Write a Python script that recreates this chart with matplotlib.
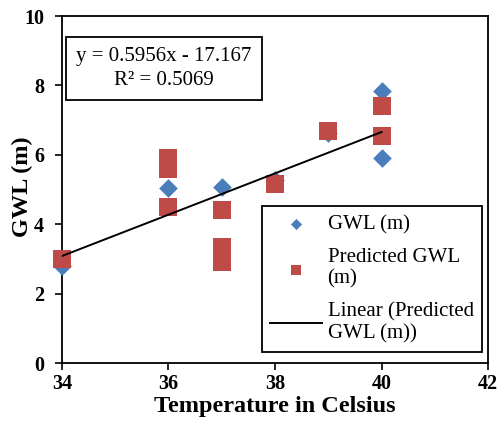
import matplotlib.pyplot as plt
import numpy as np

# Observed groundwater level vs temperature
temp_obs = [34, 36, 37, 38, 39, 40, 40]
gwl_obs = [2.8, 5.05, 5.07, 5.28, 6.62, 7.85, 5.9]

# Predicted groundwater level
temp_pred = [34, 36, 36, 36, 37, 37, 37, 37, 38, 39, 40, 40]
gwl_pred = [3.0, 5.9, 5.6, 4.5, 4.42, 3.35, 3.1, 2.9, 5.15, 6.69, 7.4, 6.55]

# Linear trendline of predicted GWL
slope = 0.5956
intercept = -17.167
r2 = 0.5069

plt.rcParams['font.family'] = ['Liberation Serif', 'DejaVu Serif']

fig = plt.figure(figsize=(4.99, 4.22), dpi=100)
ax = fig.add_axes([0.1242, 0.1398, 0.8538, 0.8222])

ax.scatter(temp_obs, gwl_obs, marker='D', s=9.5 ** 2, color='#4A7EBB',
           linewidths=0, label='GWL (m)', zorder=3, clip_on=False)
ax.scatter(temp_pred, gwl_pred, marker='s', s=13 ** 2, color='#BE4B48',
           linewidths=0, label='Predicted GWL\n(m)', zorder=4, clip_on=False)

xs = np.array([min(temp_pred), max(temp_pred)])
ax.plot(xs, slope * xs + intercept, color='black', lw=1.4,
        label='Linear (Predicted\nGWL (m))', zorder=5)

ax.set_xlim(34, 42)
ax.set_ylim(0, 10)
ax.set_xticks([34, 36, 38, 40, 42])
ax.set_yticks([0, 2, 4, 6, 8, 10])
ax.tick_params(direction='out', length=5, width=1.2, labelsize=14.5)
ax.tick_params(axis='x', pad=3)
ax.tick_params(axis='y', pad=8)
for lbl in ax.get_xticklabels() + ax.get_yticklabels():
    lbl.set_fontweight('bold')
for sp in ax.spines.values():
    sp.set_linewidth(1.3)

ax.set_xlabel('Temperature in Celsius', fontsize=17.5, fontweight='bold', labelpad=1)
ax.set_ylabel('GWL (m)', fontsize=17.5, fontweight='bold')
ax.yaxis.set_label_coords(-0.069, 0.507)

ax.text(0.239, 0.849, 'y = 0.5956x - 17.167\nR² = 0.5069', transform=ax.transAxes,
        ha='center', va='center', fontsize=15, linespacing=1.35,
        bbox=dict(boxstyle='square,pad=0.5', fc='white', ec='black', lw=1.3),
        zorder=6)

leg = ax.legend(loc='lower right', bbox_to_anchor=(0.986, 0.032), borderaxespad=0,
                fontsize=15, frameon=True, fancybox=False, edgecolor='black',
                framealpha=1, markerscale=0.6, handlelength=2.5, handletextpad=0.25,
                labelspacing=0.65, borderpad=0.4)
leg.get_frame().set_linewidth(1.3)
leg.set_zorder(7)

fig.savefig('out.png', dpi=100)
